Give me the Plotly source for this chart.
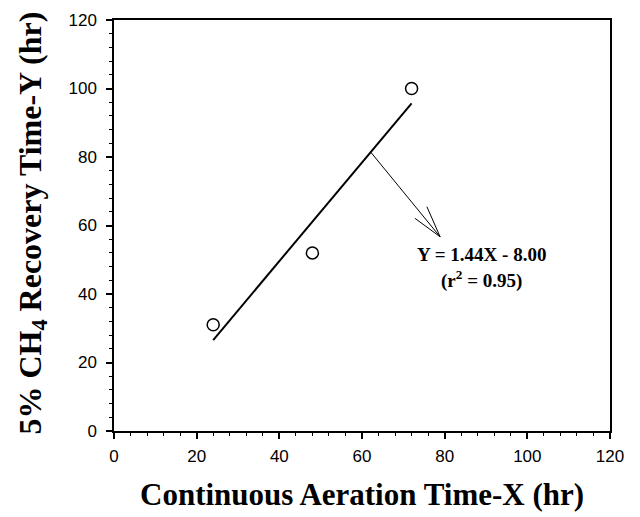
import plotly.graph_objects as go

# Data
aeration_time = [24, 48, 72]
recovery_time = [31, 52, 100]
slope = 1.44
intercept = -8.00
fit_x = [24, 72]
fit_y = [slope * x + intercept for x in fit_x]

# Annotation arrow (data coords)
arrow_x = [62.2, 78.9]
arrow_y = [81.3, 56.7]
wing1 = [72.8, 62.1]
wing2 = [75.7, 65.5]
eq_text = "Y = 1.44X - 8.00"
r2_text = "(r<sup>2</sup> = 0.95)"
eq_pos = [88.8, 51.4]
r2_pos = [88.8, 44.2]

x_ticks = [0, 20, 40, 60, 80, 100, 120]
y_ticks = [0, 20, 40, 60, 80, 100, 120]

fig = go.Figure()
fig.add_trace(go.Scatter(x=fit_x, y=fit_y, mode="lines",
                         line=dict(color="black", width=2), showlegend=False))
fig.add_trace(go.Scatter(x=aeration_time, y=recovery_time, mode="markers",
                         marker=dict(symbol="circle-open", size=12, color="black",
                                     line=dict(width=1.5)), showlegend=False))
fig.add_trace(go.Scatter(x=arrow_x, y=arrow_y, mode="lines",
                         line=dict(color="black", width=1), showlegend=False))
fig.add_trace(go.Scatter(x=[wing1[0], arrow_x[1], wing2[0]],
                         y=[wing1[1], arrow_y[1], wing2[1]], mode="lines",
                         line=dict(color="black", width=1), showlegend=False))

serif = "Liberation Serif, Times New Roman, serif"
fig.add_annotation(x=eq_pos[0], y=eq_pos[1], text="<b>" + eq_text + "</b>",
                   showarrow=False, font=dict(family=serif, size=19, color="black"))
fig.add_annotation(x=r2_pos[0], y=r2_pos[1], text="<b>" + r2_text + "</b>",
                   showarrow=False, font=dict(family=serif, size=19, color="black"))

fig.add_annotation(xref="paper", yref="paper", x=0.5, y=-0.155, yanchor="middle",
                   text="<b>Continuous Aeration Time-X (hr)</b>", showarrow=False,
                   font=dict(family=serif, size=31, color="black"))
fig.add_annotation(xref="paper", yref="paper", x=-0.165, xanchor="center", y=0.505,
                   textangle=-90,
                   text="<b>5% CH<sub>4</sub> Recovery Time-Y (hr)</b>", showarrow=False,
                   font=dict(family=serif, size=32, color="black"))

axis_common = dict(showgrid=False, zeroline=False, showline=True, linecolor="black",
                   linewidth=1.5, mirror=True, ticks="outside", ticklen=6,
                   tickwidth=1.5, tickcolor="black",
                   tickfont=dict(family="Liberation Sans, Arial, sans-serif", size=17,
                                 color="black"),
                   minor=dict(dtick=4, ticks="outside", ticklen=3.5, tickwidth=1,
                              tickcolor="black"))
fig.update_xaxes(range=[0, 120], tickvals=x_ticks, ticklabelstandoff=3, **axis_common)
fig.update_yaxes(range=[0, 120], tickvals=y_ticks, ticklabelstandoff=6, **axis_common)

fig.update_layout(width=640, height=517, margin=dict(l=114, r=30, t=20, b=86),
                  plot_bgcolor="white", paper_bgcolor="white")
fig.write_html("out.html")
